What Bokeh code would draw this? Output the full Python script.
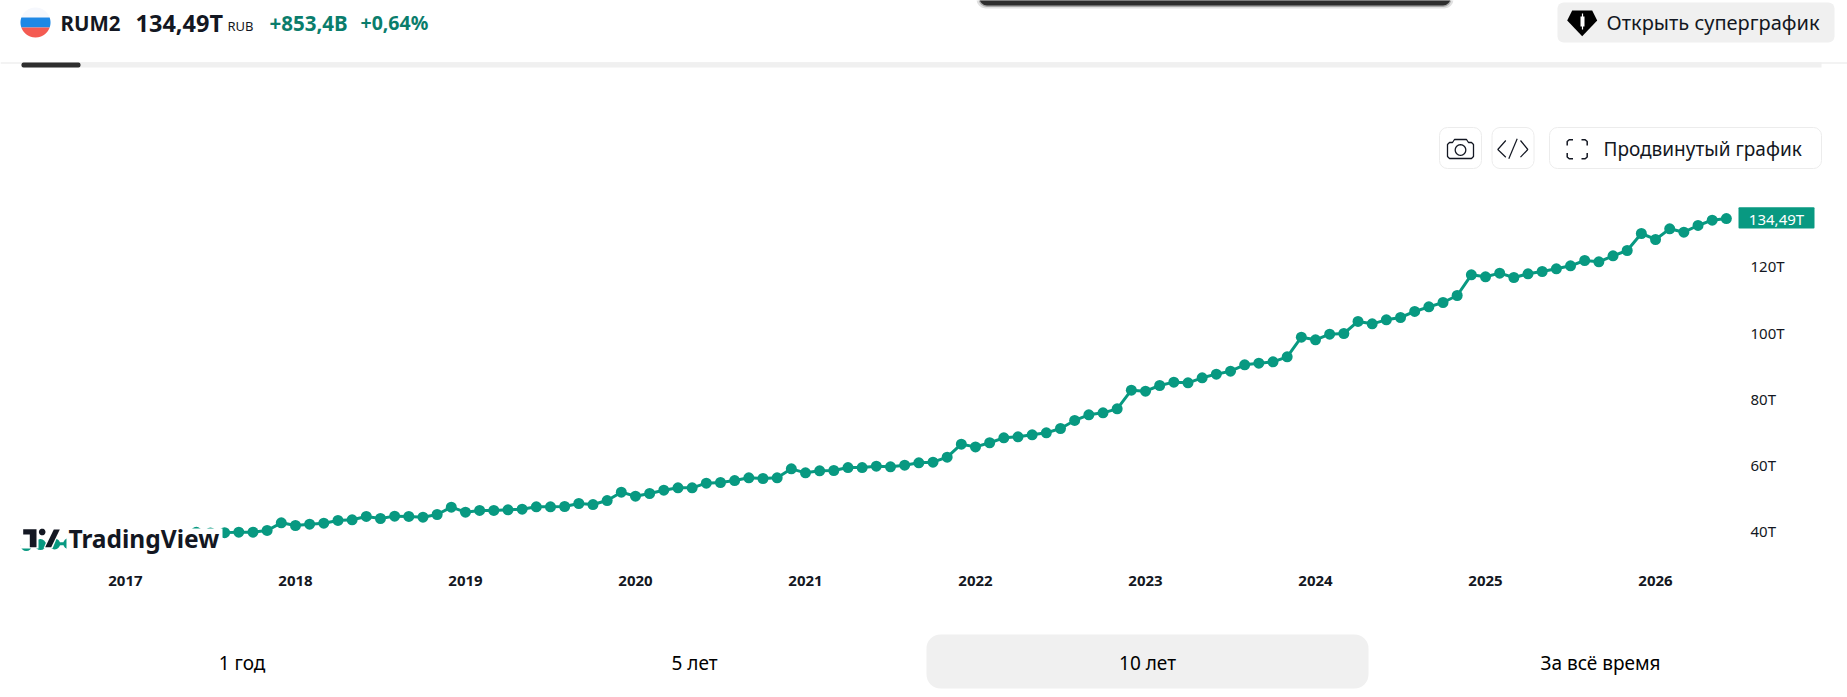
import math
from bokeh.plotting import figure
from bokeh.models import BoxAnnotation, PolyAnnotation, Label, FixedTicker, Range1d, LinearAxis
from bokeh.embed import file_html
from bokeh.resources import INLINE

# ---- data: Russia M2 money supply, trillion RUB, one value per month from Jun 2016 to Jun 2026
values_2016 = [35.7, 36.0, 36.2, 36.3, 36.5, 36.9, 38.4]
values_2017 = [37.9, 38.1, 38.4, 38.7, 39.0, 39.7, 39.5, 39.6, 39.74, 39.74, 40.25, 42.56]
values_2018 = [41.75, 42.16, 42.46, 43.27, 43.47, 44.48, 43.87, 44.58, 44.48, 44.27, 45.08, 47.3]
values_2019 = [45.78, 46.29, 46.29, 46.48, 46.68, 47.39, 47.39, 47.49, 48.4, 48.09, 49.3, 51.82]
values_2020 = [50.61, 51.42, 52.42, 53.13, 53.13, 54.54, 54.74, 55.34, 56.15, 55.95, 56.15, 58.87]
values_2021 = [57.66, 58.26, 58.37, 59.27, 59.27, 59.67, 59.47, 59.98, 60.68, 60.88, 62.4, 66.32]
values_2022 = [65.5, 66.75, 68.24, 68.55, 69.15, 69.75, 71.06, 73.48, 75.19, 75.79, 77.0, 82.64]
values_2023 = [82.34, 84.05, 85.06, 84.86, 86.37, 87.48, 88.38, 90.3, 90.8, 91.2, 92.71, 98.65]
values_2024 = [97.85, 99.56, 99.76, 103.39, 102.68, 103.89, 104.59, 106.41, 107.82, 109.12, 111.24, 117.48]
values_2025 = [116.88, 117.99, 116.68, 117.79, 118.49, 119.3, 120.2, 121.81, 121.41, 123.22, 124.83, 129.97]
values_2026 = [128.16, 131.38, 130.37, 132.39, 134.0, 134.49]
series = (values_2016 + values_2017 + values_2018 + values_2019 + values_2020 + values_2021
          + values_2022 + values_2023 + values_2024 + values_2025 + values_2026)
months = list(range(-7, len(series) - 7))      # bar index, 0 = Jan 2017
year_labels = {0: "2017", 12: "2018", 24: "2019", 36: "2020", 48: "2021",
               60: "2022", 72: "2023", 84: "2024", 96: "2025", 108: "2026"}
price_ticks = {40: "40T", 60: "60T", 80: "80T", 100: "100T", 120: "120T"}
last_label = "134,49T"

W, H = 1847, 697
FONT = "Noto Sans"
TEAL = "#089981"
INK = "#131722"

p = figure(width=W, height=H, output_backend="svg", toolbar_location=None,
           x_range=Range1d(-8.82, 121.55), y_range=Range1d(-10.21, 200.36),
           x_axis_location="below", y_axis_location=None,
           min_border_left=0, min_border_top=0, min_border_right=0, min_border_bottom=0,
           outline_line_color=None, background_fill_color="white", border_fill_color="white")
p.grid.visible = False

yaxis = LinearAxis(ticker=FixedTicker(ticks=list(price_ticks)), major_label_overrides=price_ticks)
p.add_layout(yaxis, "right")
for ax, standoff in ((p.xaxis[0], -122), (yaxis, -97)):
    ax.axis_line_color = None
    ax.major_tick_line_color = None
    ax.minor_tick_line_color = None
    ax.major_tick_out = 0
    ax.major_tick_in = 0
    ax.major_label_standoff = standoff
    ax.major_label_text_font = FONT
    ax.major_label_text_color = INK
    ax.major_label_text_font_size = "15px"
p.xaxis[0].ticker = FixedTicker(ticks=list(year_labels))
p.xaxis[0].major_label_overrides = year_labels
p.xaxis[0].major_label_text_font_style = "bold"

p.line(months, series, line_color=TEAL, line_width=3)
p.scatter(months, series, size=11, fill_color=TEAL, line_color=None)


def box(l, t, r, b, fill="white", line=None, radius=0, alpha=1.0, lw=1):
    p.add_layout(BoxAnnotation(left=l, right=r, top=t, bottom=b,
                               left_units="canvas", right_units="canvas",
                               top_units="canvas", bottom_units="canvas",
                               fill_color=fill, fill_alpha=alpha if fill else 0,
                               line_color=line, line_alpha=1 if line else 0, line_width=lw,
                               border_radius=radius, level="overlay"))


def poly(pts, fill=None, line=None, lw=1.5):
    xs = [a for a, _ in pts]
    ys = [b for _, b in pts]
    p.add_layout(PolyAnnotation(xs=xs, ys=ys, xs_units="canvas", ys_units="canvas",
                                fill_color=fill if fill else "white", fill_alpha=1 if fill else 0,
                                line_color=line, line_alpha=1 if line else 0, line_width=lw,
                                level="overlay"))


def stroke(pts, color=INK, lw=1.5):
    poly(pts + pts[-2:0:-1], line=color, lw=lw)


def text(x, y, s, size, color=INK, bold=False, align="left"):
    p.add_layout(Label(x=x, y=y, x_units="canvas", y_units="canvas", text=s,
                       text_font=FONT, text_font_size=f"{size}px", text_color=color,
                       text_font_style="bold" if bold else "normal",
                       text_align=align, text_baseline="middle", level="overlay"))


def circle_band(cx, cy, r, y0, y1):
    """Polygon of the part of a circle between two horizontal lines."""
    pts = []
    for i in range(41):
        y = y0 + (y1 - y0) * i / 40
        pts.append((cx + math.sqrt(max(r * r - (y - cy) ** 2, 0)), y))
    for i in range(41):
        y = y1 - (y1 - y0) * i / 40
        pts.append((cx - math.sqrt(max(r * r - (y - cy) ** 2, 0)), y))
    return pts


# header
poly(circle_band(35, 22, 15, 7, 17), fill="#f6f8fd")
poly(circle_band(35, 22, 15, 17, 27), fill="#1e88e5")
poly(circle_band(35, 22, 15, 27, 37), fill="#f45b52")
text(60, 22, "RUM2", 20.5, INK, True)
text(135, 22, "134,49T", 23.5, INK, True)
text(227, 25, "RUB", 13, INK)
text(269, 22, "+853,4B", 20.5, "#0a7d6c", True)
text(360, 22, "+0,64%", 19.5, "#0a7d6c", True)

# dark bar at the top with its shadow
box(976, -10, 1453, 8, "#000000", radius=9, alpha=0.12)
box(978, -10, 1451, 6.5, "#000000", radius=9, alpha=0.25)
box(979, -10, 1450, 5, "#2e2e2e", radius=8)

# tab rule
box(0, 62, W, 63, "#e8e8e8")
box(21, 62, 1821, 67, "#f0f0f0")
box(21, 62, 80, 67, "#2e2e2e", radius=2)

# super chart button
box(1557, 2, 1834, 42, "#f0f0f0", radius=6)
poly([(1571.7, 10), (1591.7, 10), (1596.7, 20), (1581.7, 35.7), (1566.7, 20)], fill="#000000")
poly([(1580, 16), (1584, 16), (1584, 26), (1580, 26)], fill="white")
poly([(1581.4, 13), (1582.6, 13), (1582.6, 29), (1581.4, 29)], fill="white")
text(1606, 22, "Открыть суперграфик", 20, INK)

# chart buttons
box(1439, 127, 1481, 168, "white", "#ececec", radius=8)
box(1491.5, 127, 1533.5, 168, "white", "#ececec", radius=8)
box(1549, 127, 1821, 168, "white", "#ececec", radius=8)
poly([(1449, 142), (1452, 142), (1454, 139), (1466, 139), (1468, 142), (1471, 142), (1473, 144),
      (1473, 156), (1471, 158), (1449, 158), (1447, 156), (1447, 144)], line=INK, lw=1.3)
poly([(1460 + 5.3 * math.cos(i * math.pi / 12), 149.5 + 5.3 * math.sin(i * math.pi / 12)) for i in range(24)],
     line=INK, lw=1.3)
stroke([(1505.3, 140), (1497.3, 149), (1505.3, 156.7)], lw=1.2)
stroke([(1516.7, 138.3), (1508.3, 158.3)], lw=1.2)
stroke([(1520, 140), (1527.3, 149), (1520, 156.7)], lw=1.2)
stroke([(1566.7, 145), (1566.7, 141), (1568.7, 139.3), (1572.5, 139.3)], lw=1.5)
stroke([(1581, 139.3), (1584.7, 139.3), (1586.7, 141), (1586.7, 145)], lw=1.5)
stroke([(1566.7, 152.5), (1566.7, 156.5), (1568.7, 158.3), (1572.5, 158.3)], lw=1.5)
stroke([(1581, 158.3), (1584.7, 158.3), (1586.7, 156.5), (1586.7, 152.5)], lw=1.5)
text(1603, 148, "Продвинутый график", 19, INK)

# last value tag
box(1738, 206.7, 1814, 228, TEAL, radius=1)
p.add_layout(Label(x=1776, y=series[-1], x_units="canvas", y_units="data", text=last_label,
                   text_font=FONT, text_font_size="15px", text_color="white",
                   text_align="center", text_baseline="middle", level="overlay"))

# watermark
box(66, 528, 222, 553, "white")
poly([(20, 526.5), (38, 526.5), (38, 548), (20, 548)], fill="white")
poly([(52, 526.5), (61, 526.5), (52, 548), (43, 548)], fill="white")
poly([(22.7, 528.7), (36, 528.7), (36, 546.7), (29.3, 546.7), (29.3, 534), (22.7, 534)], fill="#131722")
poly([(41.7 + 3.3 * math.cos(i * math.pi / 10), 531.5 + 3.3 * math.sin(i * math.pi / 10)) for i in range(20)],
     fill="#131722")
poly([(53.3, 529), (59.3, 529), (50.7, 546.7), (44.7, 546.7)], fill="#131722")
text(68, 538, "TradingView", 24.5, "#131722", True)

# range buttons
box(926, 634, 1368, 688, "#f0f0f0", radius=14)
text(241.5, 662, "1 год", 19, "#000000", align="center")
text(694, 662, "5 лет", 19, "#000000", align="center")
text(1147, 662, "10 лет", 19, "#000000", align="center")
text(1600, 662, "За всё время", 19, "#000000", align="center")

open("out.html", "w").write(file_html(p, INLINE))
